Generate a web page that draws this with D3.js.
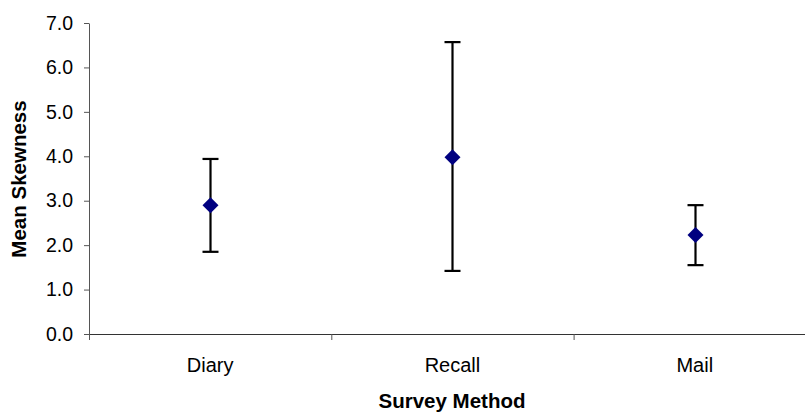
<!DOCTYPE html>
<html><head><meta charset="utf-8">
<script src="https://cdn.jsdelivr.net/npm/d3@7"></script>
<style>body{margin:0;background:#fff}svg{display:block}text{font-family:"Liberation Sans",Arial,sans-serif}</style>
</head><body>
<svg id="c" width="805" height="412"></svg>
<script>
const categories = ["Diary", "Recall", "Mail"];
const means = [2.90, 3.98, 2.23];
const upper = [3.94, 6.57, 2.90];
const lower = [1.85, 1.42, 1.55];
const yTicks = [0, 1, 2, 3, 4, 5, 6, 7];

const svg = d3.select("#c");
const m = {left: 89, top: 23, bottom: 334};
const x = d3.scaleBand().domain(categories).range([m.left, m.left + 3 * 242.3]);
const y = d3.scaleLinear().domain([0, 7]).range([m.bottom, m.top]);

// y axis
const ya = svg.append("g").attr("transform", `translate(${m.left},0)`)
  .call(d3.axisLeft(y).tickValues(yTicks).tickFormat(d3.format(".1f")).tickSize(5).tickSizeOuter(0).tickPadding(11));
ya.select(".domain").attr("stroke", "#555");
ya.selectAll(".tick line").attr("stroke", "#555");
ya.selectAll("text").attr("font-size", 19.5).attr("fill", "#000").attr("font-family", "Liberation Sans, Arial, sans-serif");

// x axis line
svg.append("line").attr("x1", m.left).attr("x2", 805).attr("y1", m.bottom + 0.5).attr("y2", m.bottom + 0.5).attr("stroke", "#333");
// category boundary ticks
const bounds = [0, 1, 2, 3].map(i => x.range()[0] + i * x.bandwidth());
svg.selectAll(".bt").data(bounds).enter().append("line")
  .attr("x1", d => d + 0.5).attr("x2", d => d + 0.5).attr("y1", m.bottom).attr("y2", m.bottom + 6).attr("stroke", "#555");
// category labels
svg.selectAll(".cl").data(categories).enter().append("text")
  .attr("x", d => x(d) + x.bandwidth() / 2).attr("y", 372).attr("text-anchor", "middle")
  .attr("font-size", 20).text(d => d);

// error bars
const cx = d => x(d) + x.bandwidth() / 2;
const g = svg.append("g");
categories.forEach((c, i) => {
  const px = Math.round(cx(c)) + 0.5;
  g.append("line").attr("x1", px).attr("x2", px).attr("y1", y(upper[i])).attr("y2", y(lower[i])).attr("stroke", "#000").attr("stroke-width", 2.2);
  [upper[i], lower[i]].forEach(v => {
    g.append("line").attr("x1", px - 8).attr("x2", px + 8).attr("y1", y(v)).attr("y2", y(v)).attr("stroke", "#000").attr("stroke-width", 2.2);
  });
  const s = 8;
  g.append("path").attr("d", `M${px},${y(means[i]) - s}L${px + s},${y(means[i])}L${px},${y(means[i]) + s}L${px - s},${y(means[i])}Z`).attr("fill", "#000080");
});

// axis titles
svg.append("text").attr("x", 452).attr("y", 408).attr("text-anchor", "middle").attr("font-size", 20.5).attr("font-weight", "bold").text("Survey Method");
svg.append("text").attr("transform", "translate(26,179) rotate(-90)").attr("text-anchor", "middle").attr("font-size", 20.5).attr("font-weight", "bold").text("Mean Skewness");
</script>
</body></html>
